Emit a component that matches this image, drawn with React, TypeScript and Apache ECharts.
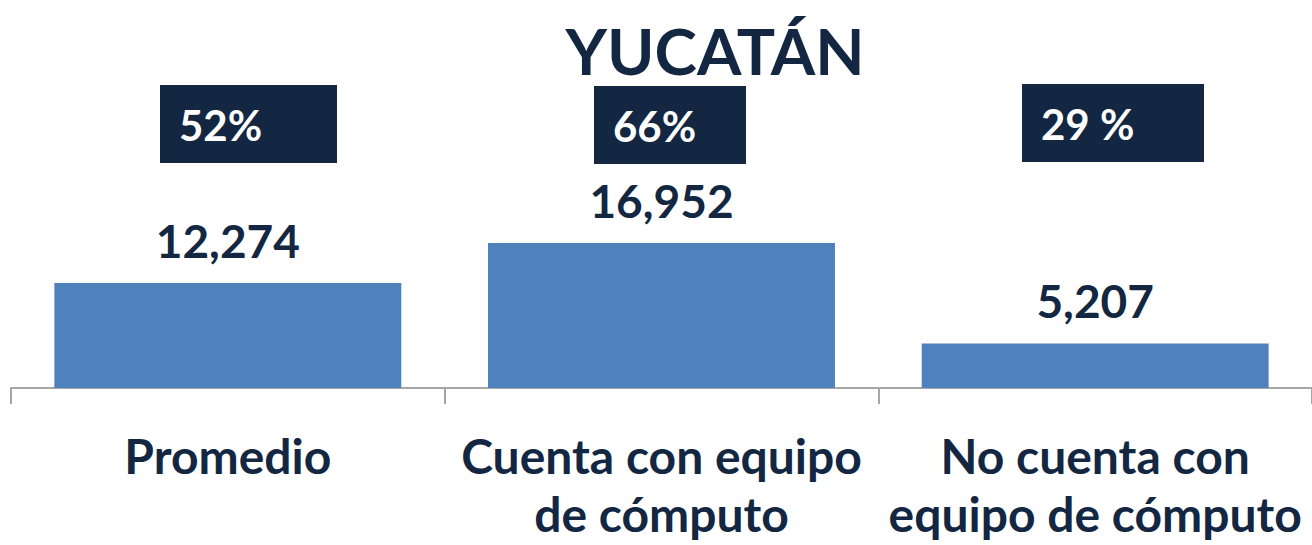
import React, { useEffect, useRef } from "react";
import * as echarts from "echarts";

const titleText = "YUCATÁN";
const categories = ["Promedio", "Cuenta con equipo\nde cómputo", "No cuenta con\nequipo de cómputo"];
const values = [12274, 16952, 5207];
const percents = ["52%", "66%", "29 %"];

const NAVY = "#132742";
const BAR = "#4f81bd";
const FONT = "Lato";

const boxes = [
  { x: 160, y: 85, w: 177, h: 78 },
  { x: 594, y: 86, w: 152, h: 78 },
  { x: 1022, y: 84, w: 182, h: 78 },
];

export default function App() {
  const ref = useRef<HTMLDivElement>(null);
  useEffect(() => {
    document.body.style.margin = "0";
    const chart = echarts.init(ref.current!, null, { renderer: "svg" });
    const graphic: any[] = [];
    percents.forEach((p, i) => {
      const b = boxes[i];
      graphic.push({
        type: "rect",
        shape: { x: b.x, y: b.y, width: b.w, height: b.h },
        style: { fill: NAVY },
      });
      graphic.push({
        type: "text",
        x: b.x + 19,
        y: b.y + b.h / 2 + 1,
        style: {
          text: p,
          fill: "#ffffff",
          font: `bold 42px ${FONT}`,
          verticalAlign: "middle",
          align: "left",
        },
      });
    });
    chart.setOption({
      animation: false,
      title: {
        text: titleText,
        left: 710,
        top: 13,
        textAlign: "center",
        textStyle: { color: NAVY, fontFamily: FONT, fontWeight: "bold", fontSize: 64 },
      },
      grid: { left: 11, right: 0, top: 46, bottom: 157, containLabel: false },
      xAxis: {
        type: "category",
        data: categories,
        axisLine: { show: true, lineStyle: { color: "#a6a6a6", width: 2 } },
        axisTick: { show: true, length: 16, lineStyle: { color: "#a6a6a6", width: 2 } },
        axisLabel: {
          color: NAVY,
          fontFamily: FONT,
          fontWeight: "bold",
          fontSize: 48,
          lineHeight: 58,
          margin: 38,
          interval: 0,
        },
      },
      yAxis: {
        type: "value",
        min: 0,
        max: 40000,
        show: false,
        splitLine: { show: false },
      },
      series: [
        {
          type: "bar",
          data: values,
          barCategoryGap: "20%",
          itemStyle: { color: BAR },
          label: {
            show: true,
            position: "top",
            distance: 20,
            color: NAVY,
            fontFamily: FONT,
            fontWeight: "bold",
            fontSize: 46,
            formatter: (p: any) => Number(p.value).toLocaleString("en-US"),
          },
        },
      ],
      graphic,
    });
    return () => chart.dispose();
  }, []);
  return <div ref={ref} style={{ width: 1312, height: 545 }} />;
}
